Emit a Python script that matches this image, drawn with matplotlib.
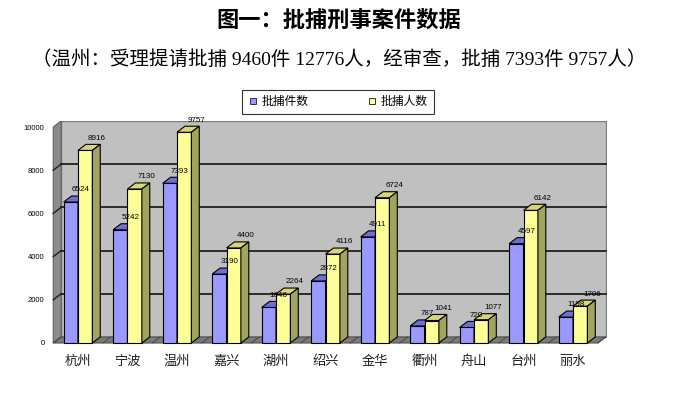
import matplotlib
matplotlib.use("Agg")
import matplotlib.pyplot as plt
from matplotlib.patches import Polygon

plt.rcParams['font.family'] = ['Liberation Sans', 'Noto Sans CJK SC']

cities = ["杭州", "宁波", "温州", "嘉兴", "湖州", "绍兴", "金华", "衢州", "舟山", "台州", "丽水"]
cases = [6524, 5242, 7393, 3190, 1646, 2872, 4911, 787, 720, 4597, 1198]
people = [8916, 7130, 9757, 4400, 2264, 4116, 6724, 1041, 1077, 6142, 1706]
series_names = ["批捕件数", "批捕人数"]
yticks = [0, 2000, 4000, 6000, 8000, 10000]

# pseudo-3d depth offsets (x in category units, y in data units)
DX, DY = 0.16, 280
W = 0.29
YMAX = 10000


def box(ax, x0, h, front, top, side, z):
    x1 = x0 + W
    ax.add_patch(Polygon([(x0, 0), (x1, 0), (x1, h), (x0, h)], closed=True,
                         fc=front, ec="black", lw=0.8, zorder=z))
    ax.add_patch(Polygon([(x0, h), (x1, h), (x1 + DX, h + DY), (x0 + DX, h + DY)],
                         closed=True, fc=top, ec="black", lw=0.8, zorder=z))
    ax.add_patch(Polygon([(x1, 0), (x1 + DX, DY), (x1 + DX, h + DY), (x1, h)],
                         closed=True, fc=side, ec="black", lw=0.8, zorder=z))


fig = plt.figure(figsize=(6.78, 3.99), dpi=100)
ax = fig.add_axes([47.3 / 678, (399 - 346) / 399, 559.4 / 678, 225 / 399])
n = len(cities)
xl, xr = -0.5, n - 0.5

# walls and floor
ax.add_patch(Polygon([(xl + DX, DY), (xr + DX, DY), (xr + DX, YMAX + DY), (xl + DX, YMAX + DY)],
                     closed=True, fc="#c0c0c0", ec="#808080", lw=1, zorder=0))
ax.add_patch(Polygon([(xl, 0), (xl + DX, DY), (xl + DX, YMAX + DY), (xl, YMAX)],
                     closed=True, fc="#8c8c8c", ec="#606060", lw=0.8, zorder=0.5))
ax.add_patch(Polygon([(xl, 0), (xr, 0), (xr + DX, DY), (xl + DX, DY)],
                     closed=True, fc="#7a7a7a", ec="#505050", lw=0.8, zorder=0.5))
for v in yticks[1:-1]:
    ax.plot([xl + DX, xr + DX], [v + DY, v + DY], color="#202020", lw=1.3, zorder=1)
    ax.plot([xl, xl + DX], [v, v + DY], color="#202020", lw=1.0, zorder=1)
for i in range(n + 1):
    ax.plot([xl + i, xl + i + DX], [0, DY], color="#404040", lw=0.6, zorder=1)

for i in range(n):
    box(ax, i - W, cases[i], "#9999ff", "#6f6fd6", "#5c5cb0", 2 + i)
    box(ax, i, people[i], "#ffff99", "#d6d676", "#a3a360", 2.5 + i)
    ax.text(i - W / 2 + 0.2, cases[i] + DY + 120, str(cases[i]), fontsize=5.8,
            ha="center", va="bottom", zorder=30)
    ax.text(i + W / 2 + 0.24, people[i] + DY + 120, str(people[i]), fontsize=5.8,
            ha="center", va="bottom", zorder=30)

ax.set_xlim(-0.62, 10.68)
ax.set_ylim(-139, 10278)
ax.set_xticks(range(n))
ax.set_xticklabels(cities, fontsize=9.5, color="#202020")
ax.set_yticks(yticks)
ax.set_yticklabels([str(v) for v in yticks], fontsize=5.5)
ax.tick_params(length=0, pad=2)
ax.tick_params(axis="x", pad=7)
for s in ax.spines.values():
    s.set_visible(False)
ax.patch.set_alpha(0)

handles = [plt.Line2D([], [], ls="none", marker="s", ms=4.5, mfc=c, mec="#333333", mew=0.7)
           for c in ("#9999ff", "#ffff99")]
leg = fig.legend(handles, series_names, loc="center", bbox_to_anchor=(338 / 678, 1 - 102 / 399),
                 ncol=2, fontsize=8.5, frameon=True, fancybox=False, handletextpad=0.3,
                 columnspacing=5.0, borderpad=0.55, borderaxespad=0, handlelength=0.8)
leg.get_frame().set_edgecolor("black")
leg.get_frame().set_linewidth(0.8)

fig.text(0.5, 1 - 20 / 399, "图一：批捕刑事案件数据", ha="center", va="center",
         fontsize=16, fontweight="bold", family=["Noto Sans CJK SC"])
fig.text(0.5, 1 - 60 / 399, "（温州：受理提请批捕 9460件 12776人，经审查，批捕 7393件 9757人）",
         ha="center", va="center", fontsize=14, family=["Liberation Serif", "Noto Sans CJK SC"])

fig.savefig("out.png", dpi=100)
